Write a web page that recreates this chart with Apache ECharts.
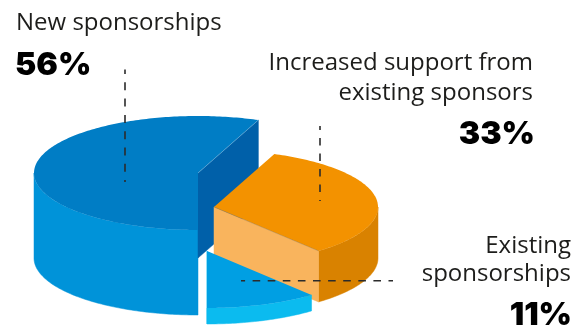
<!DOCTYPE html>
<html>
<head>
<meta charset="utf-8">
<style>html,body{margin:0;padding:0;background:#fff}#chart{width:575px;height:327px}</style>
<script src="https://cdn.jsdelivr.net/npm/echarts@6/dist/echarts.min.js"></script>
</head>
<body>
<div id="chart"></div>
<script>
// Shares of sponsorship growth, in percent
const sliceNames = ['New sponsorships', 'Increased support from existing sponsors', 'Existing sponsorships'];
const sliceShares = [56, 33, 11];

// Label lines, one array per slice
const labelLines = [['New sponsorships'], ['Increased support from', 'existing sponsors'], ['Existing', 'sponsorships']];

// Pie layout: ellipse radii, each slice's pulled-out centre and extrusion depth
const radiusX = 164, radiusY = 57;
const sliceCenters = [[198, 173], [214, 207], [207, 251]];
const sliceDepths = [85, 51, 16];
const startAngle = 180; // degrees clockwise from the top of the ellipse

const topColors = ['#007dc5', '#f39200', '#009fe3'];
const wallColors = ['#0093d9', '#d98200', '#0bbbef'];
const faceColors = ['#0060a9', '#f9b45d', '#0bbbef'];
const edgeColors = ['rgba(255,255,255,0.35)', 'rgba(110,110,110,0.45)', 'rgba(0,0,0,0)'];

// Leader lines relative to each slice's centre: [x1, y1, x2, y2], with their dash patterns
const leaders = [[-73, -103.5, -73, 9], [106, -81, 106, -6], [34, 29.8, 186, 29.8]];
const leaderDashes = [[8, 8.3], [7.6, 7.9], [7.6, 7.5]];
const leaderDashOffset = 3.5;

// Text placement: anchor x of name and of percent, baselines of name lines and of the percent figure
const labelPlacement = [
  { x: 16, pctX: 15, align: 'left', lines: [32], pct: 77 },
  { x: 533, pctX: 535, align: 'right', lines: [72, 102], pct: 146 },
  { x: 571, pctX: 572, align: 'right', lines: [254.5, 282.5], pct: 327 }
];
const nameSize = 24, pctSize = 32;
const nameFont = `400 ${nameSize}px "Open Sans"`;
const pctFont = `900 ${pctSize}px Inter`;
// Distance from the vertical middle of a line to its baseline, per unit of font size
const baselineDrop = 0.36;

const rad = d => d * Math.PI / 180;
const rim = (c, deg, dy) => [c[0] + radiusX * Math.sin(rad(deg)), c[1] - radiusY * Math.cos(rad(deg)) + (dy || 0)];

function arcPoints(c, from, to, dy) {
  const pts = [];
  const n = Math.max(2, Math.ceil(Math.abs(to - from)));
  for (let i = 0; i <= n; i++) pts.push(rim(c, from + (to - from) * i / n, dy));
  return pts;
}

// Sweep boundaries come straight from the shares
const cumulative = [];
sliceShares.reduce((sum, v, i) => { cumulative[i] = sum; return sum + v; }, 0);

function renderSlice(params, api) {
  const i = params.dataIndex;
  const from = startAngle + api.value(1) * 3.6;
  const to = from + api.value(0) * 3.6;
  const c = sliceCenters[i], d = sliceDepths[i];
  const children = [];

  // Outer wall: only the part of the arc that faces the viewer
  for (const k of [0, 1]) {
    const lo = Math.max(from, 90 + 360 * k), hi = Math.min(to, 270 + 360 * k);
    if (hi > lo) {
      children.push({
        type: 'polygon',
        shape: { points: arcPoints(c, lo, hi, 0).concat(arcPoints(c, hi, lo, d)) },
        style: { fill: wallColors[i], stroke: wallColors[i], lineWidth: 0.5 }
      });
    }
  }
  // Cut face at the end of the sweep
  const e = rim(c, to, 0);
  children.push({
    type: 'polygon',
    shape: { points: [c, e, [e[0], e[1] + d], [c[0], c[1] + d]] },
    style: { fill: faceColors[i], stroke: faceColors[i], lineWidth: 0.5 }
  });
  // Top surface
  children.push({
    type: 'polygon',
    shape: { points: [c].concat(arcPoints(c, from, to, 0)) },
    style: { fill: topColors[i] }
  });
  // Hairline where the top meets the cut face
  children.push({
    type: 'line',
    shape: { x1: c[0], y1: c[1], x2: e[0], y2: e[1] },
    style: { stroke: edgeColors[i], lineWidth: 0.7, fill: null }
  });
  return { type: 'group', children };
}

function renderLeader(params) {
  const i = params.dataIndex, c = sliceCenters[i], l = leaders[i];
  return {
    type: 'line',
    shape: { x1: c[0] + l[0], y1: c[1] + l[1], x2: c[0] + l[2], y2: c[1] + l[3] },
    style: { stroke: '#2b2b2b', lineWidth: 1.6, lineDash: leaderDashes[i], lineDashOffset: leaderDashOffset, fill: null }
  };
}

const textElements = [];
labelPlacement.forEach((p, i) => {
  labelLines[i].forEach((line, j) => {
    textElements.push({
      type: 'text', z: 10,
      style: { text: line, x: p.x, y: p.lines[j] - baselineDrop * nameSize, align: p.align, verticalAlign: 'middle', font: nameFont, fill: '#1d1d1b' }
    });
  });
  textElements.push({
    type: 'text', z: 10,
    style: { text: sliceShares[i] + '%', x: p.pctX, y: p.pct - baselineDrop * pctSize, align: p.align, verticalAlign: 'middle', font: pctFont, fill: '#000' }
  });
});

const chart = echarts.init(document.getElementById('chart'), null, { renderer: 'canvas' });
chart.setOption({
  animation: false,
  backgroundColor: '#fff',
  graphic: { elements: textElements },
  series: [
    {
      type: 'custom',
      coordinateSystem: 'none',
      name: 'Sponsorship growth',
      data: sliceShares.map((v, i) => ({ name: sliceNames[i], value: [v, cumulative[i]] })),
      renderItem: renderSlice,
      silent: true
    },
    {
      type: 'custom',
      coordinateSystem: 'none',
      z: 5,
      data: sliceShares.map((v, i) => ({ name: sliceNames[i], value: [v] })),
      renderItem: renderLeader,
      silent: true
    }
  ]
});
</script>
</body>
</html>
